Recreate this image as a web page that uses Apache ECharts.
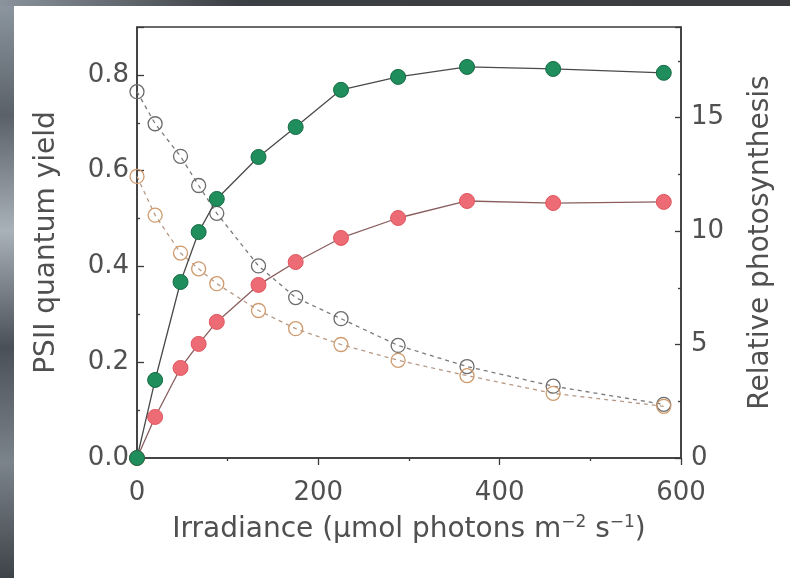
<!DOCTYPE html>
<html>
<head>
<meta charset="utf-8">
<script src="https://cdn.jsdelivr.net/npm/echarts@6/dist/echarts.min.js"></script>
<style>html,body{margin:0;padding:0;background:#fff}#c{width:790px;height:578px}</style>
</head>
<body>
<div id="c"></div>
<script>
// Irradiance (µmol photons m-2 s-1)
const irradiance = [0, 20, 48, 68, 88, 134, 175, 225, 288, 364, 459, 581];
// Relative photosynthesis (right axis), filled markers
const photoGreen = [0, 3.44, 7.76, 9.96, 11.42, 13.27, 14.59, 16.23, 16.80, 17.24, 17.15, 16.98];
const photoRed   = [0, 1.81, 3.97, 5.03, 6.00, 7.63, 8.64, 9.70, 10.58, 11.33, 11.24, 11.29];
// PSII quantum yield (left axis), open markers
const yieldDark   = [0.765, 0.698, 0.630, 0.569, 0.511, 0.401, 0.335, 0.291, 0.235, 0.191, 0.150, 0.112];
const yieldOrange = [0.588, 0.507, 0.428, 0.395, 0.364, 0.308, 0.270, 0.237, 0.204, 0.172, 0.135, 0.108];

const xTicks = [0, 200, 400, 600];
const leftTicks = [0, 0.2, 0.4, 0.6, 0.8];
const rightTicks = [0, 5, 10, 15];

const pair = ys => irradiance.map((x, i) => [x, ys[i]]);
const FONT = 'DejaVu Sans';
const TXT = '#505050';
const AX = '#3a3a3a';

const chart = echarts.init(document.getElementById('c'), null, {renderer: 'canvas'});
chart.setOption({
  animation: false,
  backgroundColor: '#ffffff',
  graphic: [
    {type: 'rect', z: -10, shape: {x: 0, y: 0, width: 14, height: 578},
     style: {fill: new echarts.graphic.LinearGradient(0, 0, 1, 1, [
       {offset: 0, color: '#8e98a2'}, {offset: 0.2, color: '#5a6168'},
       {offset: 0.4, color: '#a9b1b9'}, {offset: 0.6, color: '#4a5057'},
       {offset: 0.8, color: '#7b838b'}, {offset: 1, color: '#3e4348'}])}},
    {type: 'rect', z: -10, shape: {x: 0, y: 0, width: 790, height: 6},
     style: {fill: new echarts.graphic.LinearGradient(0, 0, 1, 0, [
       {offset: 0, color: '#8a939c'}, {offset: 0.3, color: '#3c3f43'},
       {offset: 1, color: '#3a3c3f'}])}}
  ],
  grid: {left: 137, right: 109, top: 27, bottom: 120, show: true,
         borderColor: AX, borderWidth: 1.5, backgroundColor: 'transparent'},
  xAxis: {
    type: 'value', min: 0, max: 600, interval: 200,
    name: '{n|Irradiance (µmol photons m}{s|−2}{n| s}{s|−1}{n|)}',
    nameLocation: 'middle', nameGap: 56,
    nameTextStyle: {rich: {
      n: {fontFamily: FONT, fontSize: 28, color: TXT},
      s: {fontFamily: FONT, fontSize: 17, color: TXT, padding: [0, 0, 14, 0]}
    }},
    axisLine: {show: true, lineStyle: {color: AX, width: 1.5}},
    axisTick: {show: true, inside: false, length: 7, lineStyle: {color: AX, width: 1.3}},
    minorTick: {show: true, splitNumber: 2, length: 3, lineStyle: {color: AX, width: 1.3}},
    axisLabel: {fontFamily: FONT, fontSize: 26, color: TXT, margin: 22,
      formatter: v => xTicks.indexOf(v) >= 0 ? String(v) : ''},
    splitLine: {show: false}
  },
  yAxis: [
    {
      type: 'value', position: 'left', min: 0, max: 0.9, interval: 0.2,
      name: 'PSII quantum yield', nameLocation: 'middle', nameGap: 76,
      nameTextStyle: {fontFamily: FONT, fontSize: 28, color: TXT},
      axisLine: {show: true, lineStyle: {color: AX, width: 1.5}},
      axisTick: {show: true, inside: true, length: 7, lineStyle: {color: AX, width: 1.3}},
      minorTick: {show: true, splitNumber: 2, length: 3, lineStyle: {color: AX, width: 1.3}},
      axisLabel: {fontFamily: FONT, fontSize: 26, color: TXT, margin: 8,
        formatter: v => leftTicks.some(t => Math.abs(t - v) < 1e-6) ? v.toFixed(1) : ''},
      splitLine: {show: false}
    },
    {
      type: 'value', position: 'right', min: 0, max: 19, interval: 5,
      name: 'Relative photosynthesis', nameLocation: 'middle', nameGap: 66,
      nameTextStyle: {fontFamily: FONT, fontSize: 28, color: TXT},
      axisLine: {show: true, lineStyle: {color: AX, width: 1.5}},
      axisTick: {show: true, inside: true, length: 6, lineStyle: {color: AX, width: 1.3}},
      minorTick: {show: true, splitNumber: 2, length: 3, lineStyle: {color: AX, width: 1.3}},
      axisLabel: {fontFamily: FONT, fontSize: 26, color: TXT, margin: 10,
        formatter: v => rightTicks.indexOf(v) >= 0 ? String(v) : ''},
      splitLine: {show: false}
    }
  ],
  series: [
    {type: 'line', name: 'yield dark', yAxisIndex: 0, data: pair(yieldDark),
     symbol: 'circle', symbolSize: 14, z: 2,
     itemStyle: {color: 'rgba(255,255,255,0)', borderColor: '#6b6b6b', borderWidth: 1.3},
     lineStyle: {color: '#7a7a7a', width: 1.3, type: [4, 4]}},
    {type: 'line', name: 'yield orange', yAxisIndex: 0, data: pair(yieldOrange),
     symbol: 'circle', symbolSize: 14, z: 2,
     itemStyle: {color: 'rgba(255,255,255,0)', borderColor: '#cf9a6c', borderWidth: 1.3},
     lineStyle: {color: '#b79a86', width: 1.3, type: [4, 4]}},
    {type: 'line', name: 'photo red', yAxisIndex: 1, data: pair(photoRed),
     symbol: 'circle', symbolSize: 15, z: 3,
     itemStyle: {color: '#ec6b74', borderColor: '#e2565f', borderWidth: 1},
     lineStyle: {color: '#8a5e5e', width: 1.3}},
    {type: 'line', name: 'photo green', yAxisIndex: 1, data: pair(photoGreen),
     symbol: 'circle', symbolSize: 15, z: 4,
     itemStyle: {color: '#1f8d5c', borderColor: '#166b45', borderWidth: 1},
     lineStyle: {color: '#4a4a4a', width: 1.3}}
  ]
});
</script>
</body>
</html>
